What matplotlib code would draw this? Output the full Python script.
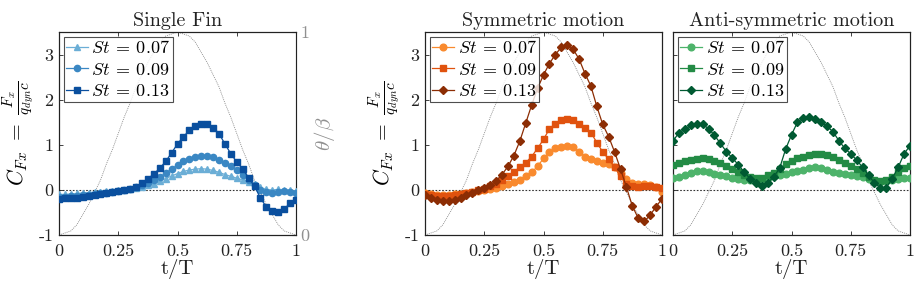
import numpy as np
import matplotlib
matplotlib.use("Agg")
import matplotlib.pyplot as plt

plt.rcParams['font.family'] = 'serif'
plt.rcParams['font.serif'] = ['cmr10', 'DejaVu Serif']
plt.rcParams['mathtext.fontset'] = 'cm'
plt.rcParams['axes.unicode_minus'] = False
plt.rcParams['axes.formatter.use_mathtext'] = True

# ---------------- data ----------------
t = np.linspace(0, 1, 41)

theta = [0.00, 0.01, 0.02, 0.05, 0.10, 0.15, 0.21, 0.27, 0.35, 0.42, 0.50,
         0.58, 0.65, 0.73, 0.79, 0.85, 0.90, 0.95, 0.98, 0.99, 1.00,
         0.99, 0.98, 0.95, 0.90, 0.85, 0.79, 0.73, 0.65, 0.58, 0.50,
         0.42, 0.35, 0.27, 0.21, 0.15, 0.10, 0.05, 0.02, 0.01, 0.00]

st_labels = [r'$St\:=\:0.07$', r'$St\:=\:0.09$', r'$St\:=\:0.13$']

single_007 = [-0.10, -0.10, -0.09, -0.08, -0.07, -0.06, -0.05, -0.04, -0.03, -0.02, -0.01,
              0.00, 0.02, 0.04, 0.07, 0.10, 0.14, 0.19, 0.25, 0.31, 0.36,
              0.41, 0.44, 0.46, 0.47, 0.46, 0.43, 0.39, 0.34, 0.30, 0.26,
              0.22, 0.18, 0.13, 0.06, 0.01, 0.00, 0.01, 0.00, -0.01, -0.03]
single_009 = [-0.15, -0.15, -0.14, -0.13, -0.12, -0.11, -0.09, -0.08, -0.06, -0.04, -0.02,
              0.00, 0.03, 0.06, 0.10, 0.15, 0.21, 0.28, 0.37, 0.46, 0.55,
              0.63, 0.69, 0.74, 0.76, 0.75, 0.72, 0.67, 0.60, 0.52, 0.43,
              0.33, 0.21, 0.10, 0.00, -0.05, -0.06, -0.05, -0.03, -0.04, -0.07]
single_013 = [-0.20, -0.19, -0.18, -0.17, -0.15, -0.13, -0.11, -0.09, -0.07, -0.05, -0.03,
              -0.01, 0.02, 0.07, 0.15, 0.25, 0.35, 0.48, 0.63, 0.82, 1.02,
              1.18, 1.32, 1.41, 1.46, 1.45, 1.38, 1.25, 1.02, 0.80, 0.62,
              0.46, 0.27, 0.08, -0.18, -0.38, -0.46, -0.49, -0.42, -0.30, -0.22]

sym_007 = [-0.08, -0.10, -0.11, -0.11, -0.11, -0.10, -0.09, -0.07, -0.05, -0.03, -0.01,
           0.02, 0.05, 0.09, 0.13, 0.17, 0.23, 0.31, 0.39, 0.52, 0.70,
           0.83, 0.92, 0.96, 0.97, 0.94, 0.85, 0.74, 0.68, 0.63, 0.60,
           0.57, 0.50, 0.37, 0.25, 0.16, 0.13, 0.13, 0.11, 0.07, -0.05]
sym_009 = [-0.10, -0.12, -0.13, -0.14, -0.13, -0.12, -0.10, -0.07, -0.04, -0.01, 0.03,
           0.08, 0.14, 0.22, 0.30, 0.40, 0.50, 0.60, 0.74, 0.92, 1.12,
           1.35, 1.47, 1.55, 1.58, 1.55, 1.45, 1.37, 1.27, 1.05, 0.84,
           0.68, 0.50, 0.30, 0.14, 0.08, 0.07, 0.08, 0.08, 0.07, 0.05]
sym_013 = [-0.12, -0.18, -0.22, -0.25, -0.25, -0.23, -0.18, -0.12, -0.06, -0.01, 0.04,
           0.11, 0.20, 0.34, 0.52, 0.76, 1.08, 1.48, 1.88, 2.25, 2.55,
           2.80, 3.00, 3.16, 3.22, 3.12, 2.90, 2.58, 2.30, 1.85, 1.45,
           1.18, 0.84, 0.46, 0.06, -0.36, -0.63, -0.70, -0.56, -0.37, -0.20]

anti_007 = [0.26, 0.29, 0.33, 0.37, 0.41, 0.41, 0.39, 0.36, 0.33, 0.30, 0.27,
            0.25, 0.22, 0.21, 0.21, 0.22, 0.26, 0.30, 0.33, 0.36, 0.40,
            0.42, 0.44, 0.48, 0.51, 0.49, 0.44, 0.40, 0.37, 0.35, 0.33,
            0.31, 0.28, 0.24, 0.20, 0.18, 0.19, 0.22, 0.25, 0.26, 0.27]
anti_009 = [0.55, 0.59, 0.63, 0.66, 0.69, 0.70, 0.69, 0.65, 0.59, 0.53, 0.47,
            0.40, 0.33, 0.28, 0.26, 0.27, 0.32, 0.38, 0.47, 0.57, 0.65,
            0.70, 0.74, 0.78, 0.80, 0.80, 0.77, 0.72, 0.66, 0.60, 0.53,
            0.46, 0.38, 0.28, 0.22, 0.19, 0.21, 0.28, 0.40, 0.48, 0.52]
anti_013 = [1.08, 1.27, 1.34, 1.43, 1.47, 1.45, 1.36, 1.21, 1.03, 0.85, 0.71,
            0.56, 0.40, 0.25, 0.16, 0.08, 0.16, 0.29, 0.48, 0.90, 1.22,
            1.50, 1.60, 1.62, 1.58, 1.51, 1.41, 1.29, 1.09, 0.92, 0.80,
            0.66, 0.50, 0.33, 0.15, 0.05, 0.05, 0.25, 0.50, 0.80, 0.98]

xticks = [0, 0.25, 0.5, 0.75, 1]
xticklabels = ['0', '0.25', '0.5', '0.75', '1']
yticks = [-1, 0, 1, 2, 3]
yticklabels = ['-1', '0', '1', '2', '3']

panels = [
    dict(title='Single Fin', series=[single_007, single_009, single_013],
         colors=['#6BAED6', '#3A87C3', '#0A4F9E'], markers=['^', 'o', 's'],
         msizes=[4.5, 4.5, 4.2], left=59, ylabels=True, twinlabels=True),
    dict(title='Symmetric motion', series=[sym_007, sym_009, sym_013],
         colors=['#F98A2E', '#E0520E', '#8C2D04'], markers=['o', 's', 'D'],
         msizes=[4.8, 4.2, 3.8], left=425, ylabels=True, twinlabels=False),
    dict(title='Anti-symmetric motion', series=[anti_007, anti_009, anti_013],
         colors=['#4DB36A', '#238B45', '#005A32'], markers=['o', 's', 'D'],
         msizes=[4.8, 4.2, 3.8], left=673, ylabels=False, twinlabels=False),
]

W, H = 918, 295
fig = plt.figure(figsize=(W / 100, H / 100), dpi=100)

ax_w, ax_top, ax_bot = 237, 32, 235
for p in panels:
    ax = fig.add_axes([p['left'] / W, (H - ax_bot) / H, ax_w / W, (ax_bot - ax_top) / H])
    tw = ax.twinx()
    tw.plot(t, theta, ls=(0, (1.2, 1.2)), color='#888888', lw=0.6, zorder=1)
    tw.set_ylim(0, 1)
    tw.set_xlim(0, 1)
    ax.set_zorder(tw.get_zorder() + 1)
    ax.patch.set_visible(False)

    ax.axhline(0, ls=(0, (1.5, 1.5)), color='#333333', lw=0.8, zorder=2)
    for ys, c, m, ms, lab in zip(p['series'], p['colors'], p['markers'], p['msizes'], st_labels):
        ax.plot(t, ys, color=c, lw=0.9, marker=m, ms=ms, mfc=c, mec=c,
                label=lab, zorder=3)
    ax.set_xlim(0, 1)
    ax.set_ylim(-1, 3.5)
    ax.set_xticks(xticks)
    ax.set_xticklabels(xticklabels)
    ax.set_yticks(yticks)
    if p['ylabels']:
        ax.set_yticklabels(yticklabels)
        ax.set_ylabel(r'$C_{Fx}\ =\ \frac{F_x}{q_{dyn}c}$', fontsize=15.5, labelpad=1)
    else:
        ax.set_yticklabels([])
    ax.tick_params(axis='both', direction='in', length=3, width=0.6,
                   labelsize=13, top=True, right=False, colors='#222222')
    ax.tick_params(axis='x', pad=6)
    ax.tick_params(axis='y', pad=4)
    for s in ax.spines.values():
        s.set_linewidth(0.8)
        s.set_color('#222222')
    ax.set_xlabel('t/T', fontsize=15, labelpad=0, color='#222222')
    ax.set_title(p['title'], fontsize=14.5, pad=4, color='#222222')

    if p['twinlabels']:
        tw.set_yticks([0, 1])
        tw.set_yticklabels(['0', '1'])
        tw.tick_params(axis='y', direction='in', length=3, colors='#909090',
                       labelsize=13, pad=3)
        tw.set_ylabel(r'$\theta/\beta$', fontsize=15, color='#909090', labelpad=2)
        tw.spines['right'].set_color('#909090')
    else:
        tw.set_yticks([])
    tw.spines['right'].set_linewidth(0.8)

    leg = ax.legend(loc='upper left', fontsize=13, frameon=True, fancybox=False,
                    edgecolor='#222222', handlelength=1.2, handletextpad=0.2,
                    borderpad=0.15, labelspacing=0.3, borderaxespad=0.25)
    leg.get_frame().set_linewidth(0.8)
    leg.set_zorder(5)

fig.savefig('out.png', dpi=100)
